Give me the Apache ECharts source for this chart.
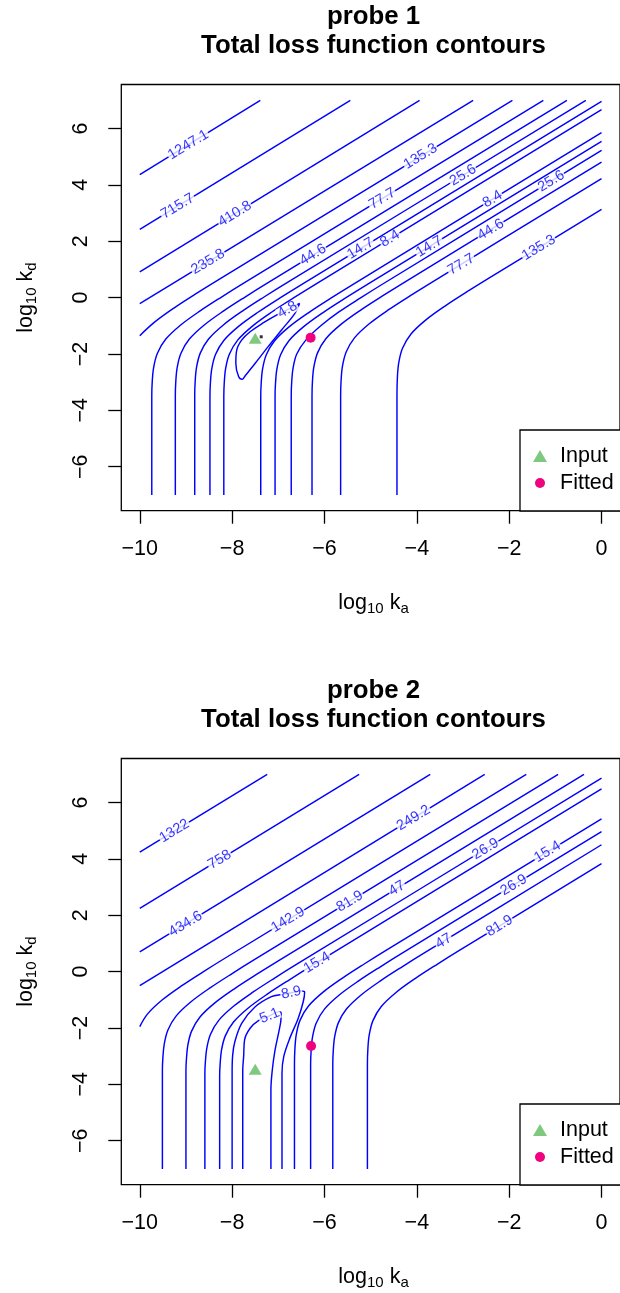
<!DOCTYPE html>
<html><head><meta charset="utf-8">
<script src="https://cdn.jsdelivr.net/npm/echarts@6.0.0/dist/echarts.min.js"></script>
<style>html,body{margin:0;padding:0;background:#fff}#c{width:620px;height:1293px}</style>
</head><body><div id="c"></div>
<script>
// ---------- data ----------
const xTicks = [-10, -8, -6, -4, -2, 0];
const yTicks = [-6, -4, -2, 0, 2, 4, 6];
const titles = ['probe 1', 'probe 2'];
const subtitle = 'Total loss function contours';

// probe 1 points
const p1Input = [-7.50, -1.44];
const p1Fitted = [-6.30, -1.42];
const p1GridMin = [-7.37, -1.39];
// probe 2 points
const p2Input = [-7.50, -3.46];
const p2Fitted = [-6.29, -2.64];

// probe 1 contour lines (log10 ka, log10 kd)
const p1Contours = [
  [[-10,4.36],[-7.39,7]],
  [[-10,2.42],[-5.44,7]],
  [[-10,0.91],[-3.94,7]],
  [[-10,-0.21],[-2.78,7]],
  [[-10,-1.35],[-9.68,-0.87],[-9.26,-0.37],[-8.79,0.13],[-8.3,0.63],[-1.93,7]],
  [[-9.74,-7],[-9.74,-3.5],[-9.73,-2.98],[-9.70,-2.48],[-9.62,-1.98],[-9.44,-1.48],[-9.12,-0.98],[-8.70,-0.48],[-8.23,0.02],[-7.74,0.52],[-1.26,7]],
  [[-9.23,-7],[-9.23,-3.5],[-9.22,-2.98],[-9.19,-2.48],[-9.11,-1.98],[-8.93,-1.48],[-8.61,-0.98],[-8.19,-0.48],[-7.72,0.02],[-7.23,0.52],[-0.75,7]],
  [[-8.81,-7],[-8.81,-3.5],[-8.80,-2.97],[-8.77,-2.47],[-8.69,-1.97],[-8.51,-1.47],[-8.19,-0.97],[-7.77,-0.47],[-7.30,0.03],[-6.81,0.53],[-0.34,7]],
  [[-8.48,-7],[-8.48,-3.5],[-8.47,-3.02],[-8.44,-2.52],[-8.36,-2.02],[-8.18,-1.52],[-7.86,-1.02],[-7.44,-0.52],[-6.97,-0.02],[-6.48,0.48],[0,6.96]],
  [[-8.18,-7],[-8.18,-3.5],[-8.17,-3.01],[-8.14,-2.51],[-8.06,-2.01],[-7.88,-1.51],[-7.56,-1.01],[-7.14,-0.51],[-6.67,-0.01],[-6.18,0.49],[0,6.67]],
  [[-6.79,-0.42],[-6.54,-0.21],[-6.64,-0.56],[-6.93,-1.15],[-7.22,-1.74],[-7.50,-2.33],[-7.72,-2.78],[-7.78,-2.90],[-7.86,-2.80],[-7.92,-2.33],[-7.90,-1.86],[-7.79,-1.50],[-7.61,-1.21],[-7.32,-0.89],[-7.04,-0.62],[-6.79,-0.42]],
  [[-7.38,-7],[-7.38,-3.5],[-7.37,-3.03],[-7.34,-2.53],[-7.26,-2.03],[-7.08,-1.53],[-6.76,-1.03],[-6.34,-0.53],[-5.87,-0.03],[-5.38,0.47],[0,5.85]],
  [[-7.07,-7],[-7.07,-3.5],[-7.06,-3.03],[-7.03,-2.53],[-6.95,-2.03],[-6.77,-1.53],[-6.45,-1.03],[-6.03,-0.53],[-5.56,-0.03],[-5.07,0.47],[0,5.54]],
  [[-6.72,-7],[-6.72,-3.5],[-6.71,-3.0],[-6.68,-2.5],[-6.60,-2.0],[-6.40,-1.5],[-6.08,-1.0],[-5.68,-0.5],[-5.21,0],[-4.72,0.5],[0,5.22]],
  [[-6.27,-7],[-6.27,-3.5],[-6.26,-2.96],[-6.23,-2.46],[-6.15,-1.96],[-5.97,-1.46],[-5.65,-0.96],[-5.23,-0.46],[-4.76,0.04],[-4.27,0.54],[0,4.81]],
  [[-5.65,-7],[-5.65,-3.5],[-5.64,-2.93],[-5.61,-2.43],[-5.53,-1.93],[-5.35,-1.43],[-5.03,-0.93],[-4.61,-0.43],[-4.14,0.07],[-3.65,0.57],[0,4.22]],
  [[-4.43,-7],[-4.43,-3.5],[-4.42,-2.8],[-4.39,-2.3],[-4.31,-1.8],[-4.13,-1.3],[-3.81,-0.8],[-3.39,-0.3],[-2.92,0.2],[-2.43,0.7],[0,3.13]]
];
// probe 1 contour labels: [text, ka, kd, angle]
const p1Labels = [
  ['1247.1',-8.95,5.42,31],['715.7',-9.18,3.24,31],['410.8',-7.94,2.97,31],['235.8',-8.52,1.27,31],
  ['135.3',-3.92,5.01,31],['135.3',-1.36,1.77,31],['77.7',-4.75,3.51,31],['77.7',-3.04,1.18,31],
  ['44.6',-6.25,1.52,31],['44.6',-2.40,2.41,31],['25.6',-3.0,4.34,31],['25.6',-1.09,4.13,31],
  ['14.7',-5.22,1.74,31],['14.7',-3.73,1.81,31],['8.4',-4.58,2.09,31],['8.4',-2.36,3.49,31],
  ['4.8',-6.80,-0.43,30]
];

// probe 2 contour lines
const p2Contours = [
  [[-10,4.24],[-7.24,7]],
  [[-10,2.24],[-5.25,7]],
  [[-10,0.70],[-3.71,7]],
  [[-10,-0.50],[-2.53,7]],
  [[-10,-1.95],[-9.83,-1.50],[-9.51,-1.0],[-9.09,-0.5],[-8.62,0.0],[-8.13,0.5],[-1.63,7]],
  [[-9.51,-7],[-9.51,-3.5],[-9.50,-3.07],[-9.47,-2.57],[-9.39,-2.07],[-9.21,-1.57],[-8.89,-1.07],[-8.47,-0.57],[-8.00,-0.07],[-7.51,0.43],[-0.94,7]],
  [[-9.0,-7],[-9.0,-3.5],[-8.99,-3.12],[-8.96,-2.62],[-8.88,-2.12],[-8.70,-1.62],[-8.38,-1.12],[-7.96,-0.62],[-7.49,-0.12],[-7.0,0.38],[-0.38,7]],
  [[-8.59,-7],[-8.59,-3.6],[-8.58,-3.23],[-8.55,-2.73],[-8.47,-2.23],[-8.29,-1.73],[-7.97,-1.23],[-7.55,-0.73],[-7.08,-0.23],[-6.59,0.27],[0,6.86]],
  [[-8.27,-7],[-8.27,-3.7],[-8.26,-3.29],[-8.23,-2.79],[-8.15,-2.29],[-7.97,-1.79],[-7.65,-1.29],[-7.23,-0.79],[-6.76,-0.29],[-6.27,0.21],[0,6.48]],
  [[-8.0,-7],[-8.0,-3.6],[-7.99,-3.0],[-7.94,-2.48],[-7.79,-1.83],[-7.50,-1.25],[-7.15,-0.89],[-6.93,-0.81],[-6.72,-0.75],[-6.50,-0.69],[-6.43,-0.72],[-6.46,-1.07],[-6.57,-1.66],[-6.75,-2.36],[-6.88,-3.0],[-6.92,-3.6],[-6.92,-7]],
  [[-7.77,-7],[-7.77,-3.5],[-7.75,-3.0],[-7.73,-2.42],[-7.61,-2.01],[-7.43,-1.74],[-7.20,-1.58],[-6.98,-1.42],[-6.94,-1.45],[-6.94,-1.64],[-6.98,-2.07],[-7.07,-2.78],[-7.13,-3.49],[-7.16,-4.2],[-7.16,-7]],
  [[-6.65,-7],[-6.65,-3.3],[-6.64,-2.73],[-6.61,-2.23],[-6.53,-1.73],[-6.35,-1.23],[-6.03,-0.73],[-5.61,-0.23],[-5.14,0.27],[-4.65,0.77],[0,5.42]],
  [[-6.30,-7],[-6.30,-3.3],[-6.29,-2.83],[-6.26,-2.33],[-6.18,-1.83],[-6.0,-1.33],[-5.68,-0.83],[-5.26,-0.33],[-4.79,0.17],[-4.30,0.67],[0,4.97]],
  [[-5.82,-7],[-5.82,-3.3],[-5.81,-2.82],[-5.78,-2.32],[-5.70,-1.82],[-5.52,-1.32],[-5.20,-0.82],[-4.78,-0.32],[-4.31,0.18],[-3.82,0.68],[0,4.50]],
  [[-5.07,-7],[-5.07,-3.3],[-5.06,-2.74],[-5.03,-2.24],[-4.95,-1.74],[-4.77,-1.24],[-4.45,-0.74],[-4.03,-0.24],[-3.56,0.26],[-3.07,0.76],[0,3.83]]
];
const p2Labels = [
  ['1322',-9.25,4.99,31],['758',-8.27,3.97,31],['434.6',-9.01,1.69,31],['249.2',-4.07,5.45,31],
  ['142.9',-6.79,1.84,31],['81.9',-5.45,2.49,31],['81.9',-2.21,1.62,31],['47',-4.43,2.95,31],
  ['47',-3.42,1.08,31],['26.9',-2.51,4.35,31],['26.9',-1.90,3.07,31],['15.4',-6.16,0.32,31],
  ['15.4',-1.17,4.25,31],['8.9',-6.72,-0.75,12],['5.1',-7.19,-1.57,22]
];

// ---------- chart ----------
const FONT = "'Liberation Sans', Arial, Helvetica, sans-serif";
const BLUE = '#0000ff';
const GREEN = '#7FC97F';
const PINK = '#F0027F';
const OFF = 674; // vertical offset of panel 2
const gridTop = [84.5, 84.5 + OFF];
const fmt = v => (v < 0 ? '\u2212' + Math.abs(v) : String(v));

const grids = gridTop.map(t => ({left: 121.3, top: t, width: 504.4, height: 426.2, show: true,
  borderColor: '#000', borderWidth: 1.3, backgroundColor: 'transparent', containLabel: false}));

const xAxes = [0, 1].map(i => ({gridIndex: i, type: 'value', min: -10.4, max: 0.4, position: 'bottom',
  axisLine: {show: false, onZero: false}, splitLine: {show: false},
  axisTick: {show: true, length: 13, lineStyle: {color: '#000', width: 1.3}, customValues: xTicks},
  axisLabel: {customValues: xTicks, formatter: fmt, color: '#000', fontSize: 21.5, fontFamily: FONT, margin: 27}}));
const yAxes = [0, 1].map(i => ({gridIndex: i, type: 'value', min: -7.56, max: 7.56, position: 'left',
  axisLine: {show: false, onZero: false}, splitLine: {show: false},
  axisTick: {show: true, length: 13, lineStyle: {color: '#000', width: 1.3}, customValues: yTicks},
  axisLabel: {customValues: yTicks, formatter: fmt, color: '#000', fontSize: 21.5, fontFamily: FONT, margin: 29, rotate: 90}}));

function panelSeries(gi, contours, labels, input, fitted, extra) {
  const s = contours.map(pts => ({type: 'line', xAxisIndex: gi, yAxisIndex: gi, data: pts,
    smooth: 0.35, showSymbol: false, symbol: 'none', silent: true, z: 2,
    lineStyle: {color: BLUE, width: 1.45}}));
  s.push({type: 'scatter', xAxisIndex: gi, yAxisIndex: gi, symbolSize: 0, silent: true, z: 3,
    label: {show: true, position: 'inside', color: BLUE, fontSize: 14.5, fontFamily: FONT,
      backgroundColor: '#fff', padding: [0, 1], lineHeight: 12},
    data: labels.map(l => ({value: [l[1], l[2]], label: {formatter: l[0], rotate: l[3]}}))});
  if (extra) s.push({type: 'scatter', xAxisIndex: gi, yAxisIndex: gi, symbol: 'rect', symbolSize: 3,
    itemStyle: {color: '#000'}, silent: true, z: 4, data: [extra]});
  s.push({name: 'Input', type: 'scatter', xAxisIndex: gi, yAxisIndex: gi, symbol: 'triangle',
    symbolSize: [13, 11], itemStyle: {color: GREEN, opacity: 1}, z: 5, silent: true, data: [input]});
  s.push({name: 'Fitted', type: 'scatter', xAxisIndex: gi, yAxisIndex: gi, symbol: 'circle',
    symbolSize: 10, itemStyle: {color: PINK, opacity: 1}, z: 5, silent: true, data: [fitted]});
  return s;
}

const legends = gridTop.map(t => ({
  orient: 'vertical', left: 520, top: t + 345.5, padding: [15, 40, 17, 5], itemGap: 5,
  itemWidth: 30, itemHeight: 14, borderColor: '#000', borderWidth: 1.3, backgroundColor: '#fff',
  selectedMode: false, z: 10,
  textStyle: {color: '#000', fontSize: 21.5, fontFamily: FONT, lineHeight: 22},
  data: [
    {name: 'Input', icon: 'path://M0,0M30,14M15,1L22,13L8,13Z', itemStyle: {color: GREEN}},
    {name: 'Fitted', icon: 'path://M0,0M30,14M20,7A5,5,0,1,1,10,7A5,5,0,1,1,20,7Z', itemStyle: {color: PINK}}
  ]}));

const graphics = [];
[0, 1].forEach(i => {
  const o = i * OFF;
  graphics.push({type: 'text', x: 373.5, y: 17 + o, silent: true,
    style: {text: titles[i], fill: '#000', font: `bold 25.8px ${FONT}`, align: 'center', verticalAlign: 'middle',
      textAlign: 'center', textVerticalAlign: 'middle'}});
  graphics.push({type: 'text', x: 373.5, y: 46 + o, silent: true,
    style: {text: subtitle, fill: '#000', font: `bold 25.8px ${FONT}`, align: 'center', verticalAlign: 'middle',
      textAlign: 'center', textVerticalAlign: 'middle'}});
  graphics.push({type: 'text', x: 373.5, y: 603 + o, silent: true,
    style: {text: 'log{s|10} k{s|a}', fill: '#000', font: `21.5px ${FONT}`, align: 'center', verticalAlign: 'middle',
      textAlign: 'center', textVerticalAlign: 'middle',
      rich: {s: {fontSize: 15, fontFamily: FONT, fill: '#000', padding: [12, 0, 0, 0]}}}});
  graphics.push({type: 'text', x: 26, y: 297.6 + o, rotation: Math.PI / 2, silent: true,
    style: {text: 'log{s|10} k{s|d}', fill: '#000', font: `21.5px ${FONT}`, align: 'center', verticalAlign: 'middle',
      textAlign: 'center', textVerticalAlign: 'middle',
      rich: {s: {fontSize: 15, fontFamily: FONT, fill: '#000', padding: [12, 0, 0, 0]}}}});
});

const chart = echarts.init(document.getElementById('c'), null, {renderer: 'canvas'});
chart.setOption({
  animation: false,
  backgroundColor: '#fff',
  grid: grids,
  xAxis: xAxes,
  yAxis: yAxes,
  legend: legends,
  graphic: graphics,
  series: [
    ...panelSeries(0, p1Contours, p1Labels, p1Input, p1Fitted, p1GridMin),
    ...panelSeries(1, p2Contours, p2Labels, p2Input, p2Fitted, null)
  ]
});
</script></body></html>
